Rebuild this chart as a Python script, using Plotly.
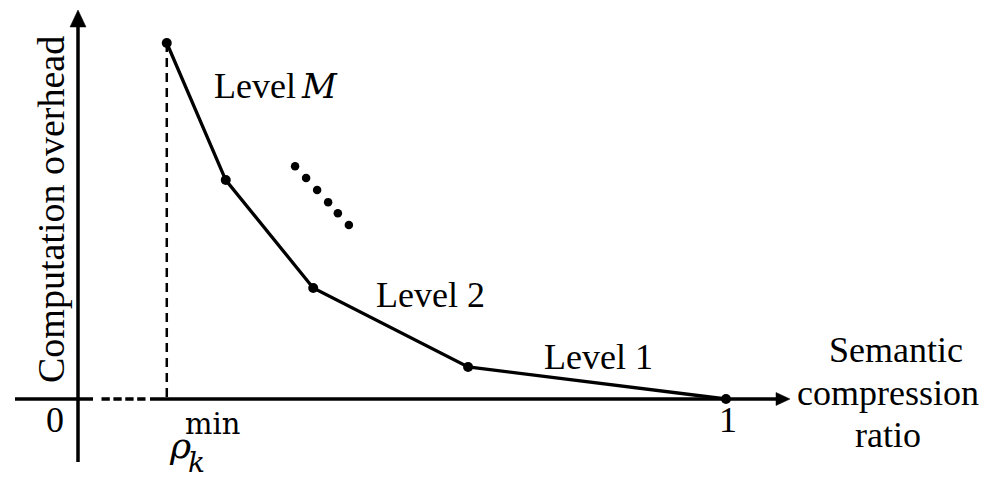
import plotly.graph_objects as go

# ---------------- data (axis units) ----------------
level_ratio = [0.137, 0.228, 0.363, 0.602, 1.0]          # semantic compression ratio
level_overhead = [1.0, 0.615, 0.312, 0.090, 0.0]          # computation overhead (normalized)

ellipsis_ratio = [0.335, 0.352, 0.369, 0.386, 0.401, 0.418]
ellipsis_overhead = [0.654, 0.621, 0.587, 0.553, 0.522, 0.489]

tick_values = [0.0, 0.137, 1.0]      # "0", rho_k^min, "1"
level_labels = ["Level ", "Level 2", "Level 1"]
xlabel_lines = ["Semantic", "compression", "ratio"]
ylabel = "Computation overhead"

# ---------------- geometry helpers ----------------
W, H = 996, 478
OX, OY = 78.0, 399.0        # pixel position of the origin
SX, SY = 648.0, 356.0       # pixels per axis unit
XR = [(0 - OX) / SX, (W - OX) / SX]
YR = [(OY - H) / SY, (OY - 0) / SY]


def dx(px):
    return (px - OX) / SX


def dy(py):
    return (OY - py) / SY


SERIF = "Liberation Serif, Times New Roman, serif"
MATH = "DejaVu Serif, serif"

fig = go.Figure()

# main piecewise curve
fig.add_trace(go.Scatter(
    x=level_ratio, y=level_overhead, mode="lines+markers",
    line=dict(color="black", width=3.3),
    marker=dict(color="black", size=10),
    hoverinfo="skip", showlegend=False,
))

# ellipsis dots
fig.add_trace(go.Scatter(
    x=ellipsis_ratio, y=ellipsis_overhead, mode="markers",
    marker=dict(color="black", size=8.5),
    hoverinfo="skip", showlegend=False,
))

shapes = []
AX_W = 3.5
# y axis
shapes.append(dict(type="line", xref="x", yref="y", x0=0, x1=0, y0=dy(462), y1=dy(26),
                   line=dict(color="black", width=AX_W)))
shapes.append(dict(type="path", xref="x", yref="y",
                   path=f"M {dx(70)},{dy(27)} L {dx(86)},{dy(27)} L {dx(78)},{dy(10)} Z",
                   fillcolor="black", line=dict(color="black", width=0.5)))
# x axis: solid left stub, dotted gap, solid main
shapes.append(dict(type="line", xref="x", yref="y", x0=dx(15), x1=dx(93), y0=0, y1=0,
                   line=dict(color="black", width=AX_W)))
shapes.append(dict(type="line", xref="x", yref="y", x0=dx(101.5), x1=dx(145.5), y0=0, y1=0,
                   line=dict(color="black", width=AX_W, dash="8.3px,3.6px")))
shapes.append(dict(type="line", xref="x", yref="y", x0=dx(150), x1=dx(778), y0=0, y1=0,
                   line=dict(color="black", width=AX_W)))
shapes.append(dict(type="path", xref="x", yref="y",
                   path=f"M {dx(776)},{dy(392.5)} L {dx(776)},{dy(405.5)} L {dx(790)},{dy(399)} Z",
                   fillcolor="black", line=dict(color="black", width=0.5)))
# dashed drop line at rho_min
shapes.append(dict(type="line", xref="x", yref="y", x0=level_ratio[0], x1=level_ratio[0],
                   y0=level_overhead[0], y1=0,
                   line=dict(color="black", width=2.5, dash="9px,6px")))

ann = []


def text(s, px, py_base, size, family=SERIF, xanchor="left", k=0.3375):
    ann.append(dict(text=s, x=dx(px), y=dy(py_base - k * size), xref="x", yref="y",
                    xanchor=xanchor, yanchor="middle", showarrow=False,
                    font=dict(family=family, size=size, color="black")))


# level labels
text(level_labels[0], 212, 98, 36)
text("<i>M</i>", 299, 98, 34, family=MATH, k=0.346)
text(level_labels[1], 374, 307, 36)
text(level_labels[2], 542, 369, 36)

# tick labels
text("0", 55, 432, 36, xanchor="center")
text("1", 728, 432, 36, xanchor="center")
# rho_k^min
rho_px = OX + tick_values[1] * SX
text("<i>ρ</i>", rho_px, 458, 36, family=MATH, k=0.346)
text("<i>k</i>", rho_px + 19, 472, 28, family=MATH, k=0.346)
text("min", rho_px + 75, 434, 29, family=MATH, xanchor="right", k=0.346)

# x axis label
text(xlabel_lines[0], 896, 362, 36, xanchor="center")
text(xlabel_lines[1], 888, 405, 36, xanchor="center")
text(xlabel_lines[2], 888, 447, 36, xanchor="center")

# y axis label (rotated)
ann.append(dict(text=ylabel, x=dx(51), y=dy(210), xref="x", yref="y",
                xanchor="center", yanchor="middle", showarrow=False, textangle=-90,
                font=dict(family=SERIF, size=38, color="black")))

fig.update_layout(
    width=W, height=H, autosize=False,
    margin=dict(l=0, r=0, t=0, b=0),
    paper_bgcolor="white", plot_bgcolor="white",
    xaxis=dict(range=XR, visible=False, fixedrange=True),
    yaxis=dict(range=YR, visible=False, fixedrange=True),
    shapes=shapes, annotations=ann, showlegend=False,
)

fig.write_html("out.html", config={"displayModeBar": False},
               post_script="document.body.style.margin='0';document.body.style.overflow='hidden';")
